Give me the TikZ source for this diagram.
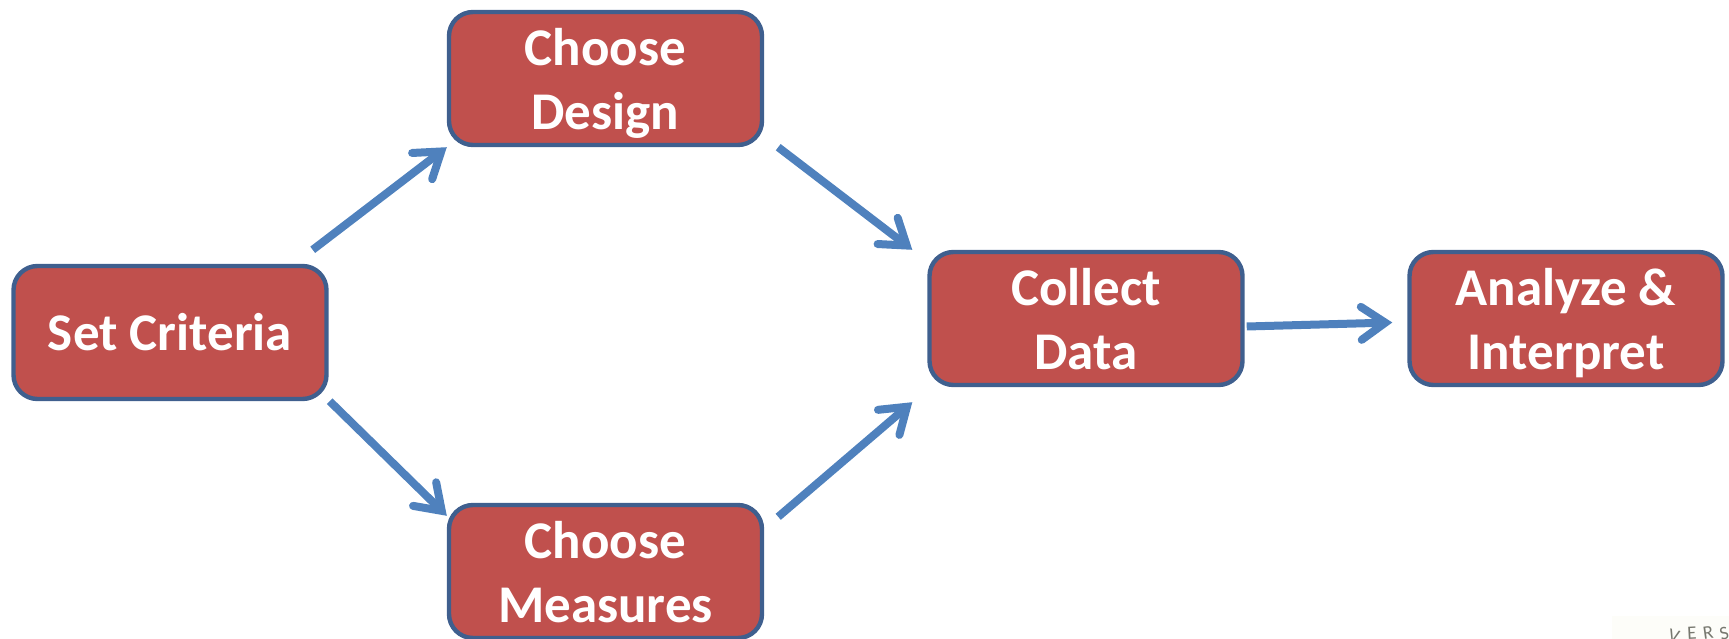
\documentclass[tikz,border=0pt]{standalone}
\usepackage{fontspec}
\setmainfont{Carlito}
\usetikzlibrary{arrows.meta}
\newcommand{\toptwo}{\rule{0pt}{51pt}}
\newcommand{\topone}{\rule{0pt}{49pt}}
\newcommand{\btm}{\rule[-13pt]{0pt}{13pt}}
\tikzset{
  box/.style={draw=boxedge,fill=boxfill,line width=4.4pt,rounded corners=24pt,minimum width=313pt,minimum height=133pt,inner sep=0pt,
    text=white,align=center,font=\fontsize{53}{64}\selectfont\bfseries},
  flow/.style={draw=flowblue,line width=8pt,-{Straight Barb[length=24pt,width=33pt,line cap=round,line join=miter]}},
  crest/.style={text=crestgrey,font=\fontsize{19}{19}\selectfont,inner sep=0pt}
}
\definecolor{boxfill}{HTML}{C0504D}
\definecolor{boxedge}{HTML}{3F5F8E}
\definecolor{flowblue}{HTML}{4F81BD}
\definecolor{crestgrey}{HTML}{77786F}
\definecolor{crestbg}{HTML}{FDFDF9}
\begin{document}
\begin{tikzpicture}[x=1pt,y=-1pt]
\useasboundingbox (0,0) rectangle (1729,639);
\clip (0,0) rectangle (1729,639);
\fill[crestbg] (1612,616) rectangle (1729,639);
\node[box] (crit) at (170,332.5) {\topone Set Criteria\btm};
\node[box] (design) at (605.5,78.5) {\toptwo Choose\\Design\btm};
\node[box] (measures) at (605.5,571.5) {\toptwo Choose\\Measures\btm};
\node[box] (collect) at (1086,318.5) {\toptwo Collect\\Data\btm};
\node[box] (analyze) at (1566,318.5) {\toptwo Analyze \&\\Interpret\btm};
\draw[flow] ([shift={(-16,-14)}]crit.north east) -- (design.south west);
\draw[flow] ([shift={(1,0)}]crit.south east) -- ([shift={(0,13)}]measures.north west);
\draw[flow] ([shift={(14,0)}]design.south east) -- ([shift={(-15,0)}]collect.north west);
\draw[flow] ([shift={(14,14)}]measures.north east) -- ([shift={(-15,15)}]collect.south west);
\draw[flow] ([shift={(2,8)}]collect.east) -- ([shift={(-15,4)}]analyze.west);
\node[crest,rotate=-15] (l1) at (1674,636) {V};
\node[crest,rotate=3] (l2) at (1692,633) {E};
\node[crest,rotate=8] (l3) at (1708,633) {R};
\node[crest,rotate=14] (l4) at (1724,634) {S};
\end{tikzpicture}
\end{document}
